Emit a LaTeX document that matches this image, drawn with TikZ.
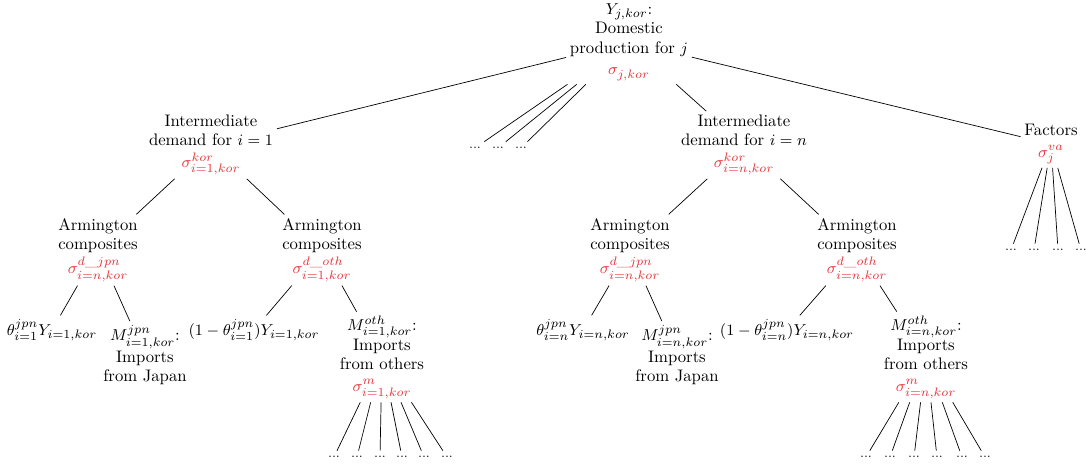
\documentclass[tikz,border=0pt]{standalone}
\usepackage{tikz}
\usetikzlibrary{positioning}
\definecolor{elasred}{RGB}{232,52,58}
\newcommand{\elas}[1]{\textcolor{elasred}{$#1$}}

\begin{document}
\begin{tikzpicture}[
    x=0.02cm, y=-0.02cm,
    nest/.style={align=center, inner sep=2pt, font=\fontsize{9.5}{11}\selectfont},
    leaf/.style={inner sep=2pt, font=\fontsize{9.5}{11}\selectfont},
    etc/.style={inner sep=3pt, font=\scriptsize},
    ]
    \useasboundingbox (0,0) rectangle (1086,466);
    %Nodes
    \node[nest] (dom)   at (629,42)  {$Y_{j,kor}$:\\Domestic\\production for $j$\\[1.5pt]\elas{\sigma_{j,kor}}};
    \node[nest] (int1)  at (211,145) {Intermediate\\demand for $i=1$\\[1.5pt]\elas{\sigma^{kor}_{i=1,kor}}};
    \node[nest] (intn)  at (744,145) {Intermediate\\demand for $i=n$\\[1.5pt]\elas{\sigma^{kor}_{i=n,kor}}};
    \node[nest] (fac)   at (1051,144) {Factors\\[1.5pt]\elas{\sigma^{va}_{j}}};
    \node[nest] (arm11) at (98,250)  {Armington\\composites\\[1.5pt]\elas{\sigma^{d\_jpn}_{i=n,kor}}};
    \node[nest] (arm12) at (322,250) {Armington\\composites\\[1.5pt]\elas{\sigma^{d\_oth}_{i=1,kor}}};
    \node[nest] (armn1) at (630,250) {Armington\\composites\\[1.5pt]\elas{\sigma^{d\_jpn}_{i=n,kor}}};
    \node[nest] (armn2) at (857,250) {Armington\\composites\\[1.5pt]\elas{\sigma^{d\_oth}_{i=n,kor}}};
    \node[leaf] (dj1)   at (52,330)  {$\theta^{jpn}_{i=1}Y_{i=1,kor}$};
    \node[nest] (mj1)   at (145,355) {$M^{jpn}_{i=1,kor}$:\\Imports\\from Japan};
    \node[leaf] (do1)   at (254,330) {$(1-\theta^{jpn}_{i=1})Y_{i=1,kor}$};
    \node[nest] (mo1)   at (382,357) {$M^{oth}_{i=1,kor}$:\\Imports\\from others\\[1.5pt]\elas{\sigma^{m}_{i=1,kor}}};
    \node[leaf] (djn)   at (583,330) {$\theta^{jpn}_{i=n}Y_{i=n,kor}$};
    \node[nest] (mjn)   at (677,355) {$M^{jpn}_{i=n,kor}$:\\Imports\\from Japan};
    \node[leaf] (don)   at (787,330) {$(1-\theta^{jpn}_{i=n})Y_{i=n,kor}$};
    \node[nest] (mon)   at (926,357) {$M^{oth}_{i=n,kor}$:\\Imports\\from others\\[1.5pt]\elas{\sigma^{m}_{i=n,kor}}};
    %Dots
    \foreach \x [count=\k] in {475,498,521}
        \node[etc] (mid\k) at (\x,148) {...};
    \foreach \x [count=\k] in {1011,1034,1058,1081}
        \node[etc] (va\k) at (\x,250) {...};
    \foreach \x [count=\k] in {334,357,380,402,424,447}
        \node[etc] (oth1\k) at (\x,457) {...};
    \foreach \x [count=\k] in {866,890,914,937,962,985}
        \node[etc] (othn\k) at (\x,457) {...};
    %Lines
    \draw (dom) -- (int1);
    \draw (dom) -- (intn);
    \draw (dom) -- (fac);
    \foreach \k in {1,2,3}
        \draw (dom) -- (mid\k);
    \draw (int1) -- (arm11);
    \draw (int1) -- (arm12);
    \draw (intn) -- (armn1);
    \draw (intn) -- (armn2);
    \draw (arm11) -- (dj1);
    \draw (arm11) -- (mj1);
    \draw (arm12) -- (do1);
    \draw (arm12) -- (mo1);
    \draw (armn1) -- (djn);
    \draw (armn1) -- (mjn);
    \draw (armn2) -- (don);
    \draw (armn2) -- (mon);
    \foreach \k in {1,...,4}
        \draw (fac) -- (va\k);
    \foreach \k in {1,...,6}
        \draw (mo1) -- (oth1\k);
    \foreach \k in {1,...,6}
        \draw (mon) -- (othn\k);
\end{tikzpicture}
\end{document}
